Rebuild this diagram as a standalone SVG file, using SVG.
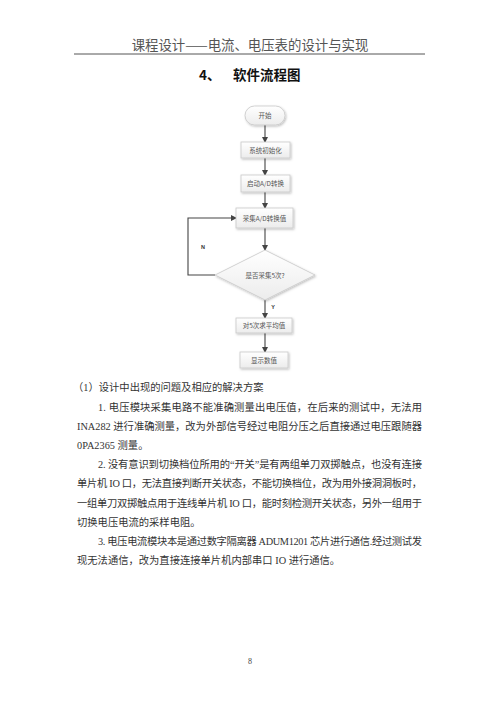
<svg xmlns="http://www.w3.org/2000/svg" width="500" height="707" viewBox="0 0 500 707">
<defs>
<linearGradient id="g" x1="0" y1="0" x2="0" y2="1">
<stop offset="0" stop-color="#ffffff"/>
<stop offset="1" stop-color="#ececec"/>
</linearGradient>
<filter id="sh" x="-20%" y="-20%" width="150%" height="160%">
<feDropShadow dx="1" dy="1.2" stdDeviation="0.8" flood-color="#000" flood-opacity="0.25"/>
</filter>
<marker id="ar" markerWidth="6" markerHeight="6" refX="5" refY="3" orient="auto" markerUnits="userSpaceOnUse">
<path d="M0,0 L6,3 L0,6 z" fill="#444"/>
</marker>
</defs>
<style>
.node{fill:url(#g);stroke:#c8c8c8;stroke-width:0.8;filter:url(#sh)}
.nt{font-family:"Noto Sans CJK SC",sans-serif;font-size:6.5px;fill:#555;text-anchor:middle}
.ln{stroke:#444;stroke-width:1.1;fill:none}
.body{font-family:"Liberation Serif","Noto Sans CJK SC",serif;font-size:10.3px;fill:#333}
</style>
<rect width="500" height="707" fill="#fff"/>
<g id="header">
<text x="250" y="50" text-anchor="middle" font-family="Noto Sans CJK SC, sans-serif" font-size="13.4" fill="#555">课程设计——电流、电压表的设计与实现</text>
<line x1="74" y1="54" x2="425" y2="54" stroke="#555" stroke-width="1"/>
</g>
<g id="title" font-family="Noto Sans CJK SC, sans-serif" font-size="13.5" font-weight="bold" fill="#111">
<text x="199" y="80">4、</text>
<text x="233" y="80">软件流程图</text>
</g>
<g id="connectors">
<line class="ln" x1="265" y1="125" x2="265" y2="142" marker-end="url(#ar)"/>
<line class="ln" x1="265" y1="158" x2="265" y2="175" marker-end="url(#ar)"/>
<line class="ln" x1="265" y1="192" x2="265" y2="208" marker-end="url(#ar)"/>
<line class="ln" x1="265" y1="228" x2="265" y2="250" marker-end="url(#ar)"/>
<line class="ln" x1="265" y1="300" x2="265" y2="318" marker-end="url(#ar)"/>
<line class="ln" x1="265" y1="333" x2="265" y2="352" marker-end="url(#ar)"/>
<polyline class="ln" points="215,275 188,275 188,218 236,218" marker-end="url(#ar)"/>
<text x="203" y="249" font-family="Liberation Sans, sans-serif" font-size="5.5" font-weight="bold" fill="#333" text-anchor="middle">N</text>
<text x="273" y="309" font-family="Liberation Sans, sans-serif" font-size="5.5" font-weight="bold" fill="#333" text-anchor="middle">Y</text>
</g>
<g id="start"><rect class="node" x="245" y="106" width="40" height="19" rx="9.5"/><text class="nt" x="265" y="118">开始</text></g>
<g id="init"><rect class="node" x="241" y="142" width="49" height="16"/><text class="nt" x="265.5" y="152.5">系统初始化</text></g>
<g id="startad"><rect class="node" x="241" y="175" width="49" height="17"/><text class="nt" x="265.5" y="186">启动A/D转换</text></g>
<g id="collect"><rect class="node" x="236" y="208" width="57" height="20"/><text class="nt" x="264.5" y="220.5">采集A/D转换值</text></g>
<g id="decision"><polygon class="node" points="265,250 315,275 265,300 215,275"/><text class="nt" x="265" y="277.5" font-size="5.5">是否采集5次?</text></g>
<g id="average"><rect class="node" x="236" y="318" width="56" height="15"/><text class="nt" x="264" y="328">对5次求平均值</text></g>
<g id="display"><rect class="node" x="240" y="352" width="48" height="16"/><text class="nt" x="264" y="362.5">显示数值</text></g>
<g id="body" class="body">
<text x="73" y="391">（1）设计中出现的问题及相应的解决方案</text>
<text x="98" y="410.5" textLength="324" lengthAdjust="spacing">1. 电压模块采集电路不能准确测量出电压值，在后来的测试中，无法用</text>
<text x="77" y="429.5" textLength="345" lengthAdjust="spacing">INA282 进行准确测量，改为外部信号经过电阻分压之后直接通过电压跟随器</text>
<text x="77" y="449">0PA2365 测量。</text>
<text x="98" y="468" textLength="324" lengthAdjust="spacing">2. 没有意识到切换档位所用的“开关”是有两组单刀双掷触点，也没有连接</text>
<text x="77" y="487" textLength="345" lengthAdjust="spacing">单片机 IO 口，无法直接判断开关状态，不能切换档位，改为用外接洞洞板时，</text>
<text x="77" y="507" textLength="345" lengthAdjust="spacing">一组单刀双掷触点用于连线单片机 IO 口，能时刻检测开关状态，另外一组用于</text>
<text x="77" y="526">切换电压电流的采样电阻。</text>
<text x="98" y="545" textLength="324" lengthAdjust="spacing">3. 电压电流模块本是通过数字隔离器 ADUM1201 芯片进行通信.经过测试发</text>
<text x="77" y="564">现无法通信，改为直接连接单片机内部串口 IO 进行通信。</text>
</g>
<text id="page" x="250" y="664" text-anchor="middle" font-family="Liberation Serif, serif" font-size="8" fill="#444">8</text>
</svg>
